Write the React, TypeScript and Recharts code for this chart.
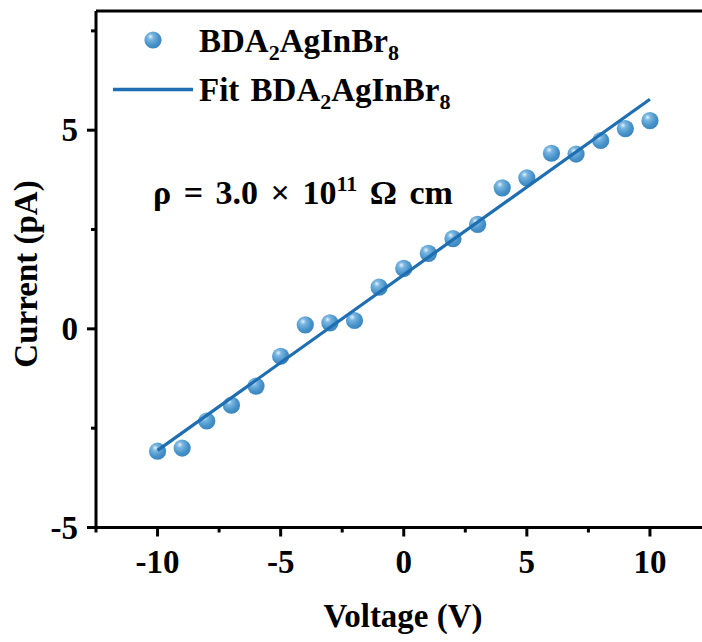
import React from "react";
import {
    ScatterChart,
    Scatter,
    XAxis,
    YAxis,
    ReferenceLine,
    Customized,
} from "recharts";

// Measured I-V points
const voltage = [-10, -9, -8, -7, -6, -5, -4, -3, -2, -1, 0, 1, 2, 3, 4, 5, 6, 7, 8, 9, 10];
const current = [
    -3.08, -3.0, -2.32, -1.92, -1.44, -0.69, 0.1, 0.15, 0.21, 1.05, 1.52,
    1.9, 2.27, 2.63, 3.55, 3.8, 4.42, 4.4, 4.74, 5.04, 5.24,
];

// Linear fit end points
const fitVoltage = [-10, 10];
const fitCurrent = [-3.06, 5.78];

const xTicks = [-12.5, -10, -7.5, -5, -2.5, 0, 2.5, 5, 7.5, 10, 12.5];
const yTicks = [-5, -2.5, 0, 2.5, 5, 7.5];

const points = voltage.map((v, i) => ({ v, i: current[i] }));
const fit = fitVoltage.map((v, k) => ({ v, i: fitCurrent[k] }));

const FONT = "'Liberation Serif', 'Times New Roman', serif";
const LINE = "#1f6eb2";
const SIZE = 33;

const Sphere = (props: any) => {
    const { cx, cy } = props;
    if (cx == null || cy == null) return <g />;
    return <circle cx={cx} cy={cy} r={8.6} fill="url(#sphereFill)" />;
};

const NoDot = () => <g />;

const XTick = (props: any) => {
    const { x, y, payload } = props;
    const major = payload.value % 5 === 0;
    return (
        <g>
            <line x1={x} y1={y} x2={x} y2={y + (major ? 9 : 5)} stroke="#000" strokeWidth={3} />
            {major && (
                <text x={x} y={y + 45} textAnchor="middle" fontFamily={FONT} fontWeight="bold" fontSize={SIZE} fill="#000">
                    {payload.value}
                </text>
            )}
        </g>
    );
};

const YTick = (props: any) => {
    const { x, y, payload } = props;
    const major = payload.value % 5 === 0;
    return (
        <g>
            <line x1={x} y1={y} x2={x - (major ? 9 : 5)} y2={y} stroke="#000" strokeWidth={3} />
            {major && (
                <text x={x - 18} y={y + 11} textAnchor="end" fontFamily={FONT} fontWeight="bold" fontSize={SIZE} fill="#000">
                    {payload.value}
                </text>
            )}
        </g>
    );
};

// Titles, legend and resistivity note
const Overlay = () => (
    <g fontFamily={FONT} fontWeight="bold" fill="#000">
        <defs>
            <radialGradient id="sphereFill" cx="38%" cy="35%" r="68%" fx="36%" fy="30%">
                <stop offset="0%" stopColor="#e4f2fb" />
                <stop offset="25%" stopColor="#7ab6e0" />
                <stop offset="70%" stopColor="#4692c9" />
                <stop offset="100%" stopColor="#3a84bd" />
            </radialGradient>
        </defs>

        <text x={403} y={627} textAnchor="middle" fontSize={SIZE}>Voltage (V)</text>
        <text transform="translate(37,274) rotate(-90)" textAnchor="middle" fontSize={SIZE}>Current (pA)</text>

        <circle cx={153} cy={40} r={8.6} fill="url(#sphereFill)" />
        <text x={199} y={52} fontSize={33}>
            BDA<tspan fontSize={22} dy={8}>2</tspan>
            <tspan dy={-8}>AgInBr</tspan>
            <tspan fontSize={22} dy={8}>8</tspan>
        </text>

        <line x1={113} y1={89.5} x2={193} y2={89.5} stroke={LINE} strokeWidth={3.4} />
        <text x={199} y={101} fontSize={33} wordSpacing={3}>
            Fit BDA<tspan fontSize={22} dy={8}>2</tspan>
            <tspan dy={-8}>AgInBr</tspan>
            <tspan fontSize={22} dy={8}>8</tspan>
        </text>

        <text x={153} y={204} fontSize={34} wordSpacing={4}>
            ρ = 3.0 × 10<tspan fontSize={22} dy={-13}>11</tspan>
            <tspan dy={13}> Ω cm</tspan>
        </text>
    </g>
);

export default function App() {
    return (
        <div style={{ position: "absolute", left: 0, top: 0, width: 702, height: 642, overflow: "hidden", background: "#fff" }}>
            <ScatterChart width={720} height={642} margin={{ top: 11, right: 8.5, bottom: 14.5, left: 10 }}>
                <XAxis
                    type="number"
                    dataKey="v"
                    domain={[-12.5, 12.5]}
                    ticks={xTicks}
                    interval={0}
                    height={100}
                    axisLine={{ stroke: "#000", strokeWidth: 3 }}
                    tickLine={false}
                    tickSize={0}
                    tickMargin={0}
                    tick={<XTick />}
                />
                <YAxis
                    type="number"
                    dataKey="i"
                    domain={[-5, 8]}
                    ticks={yTicks}
                    interval={0}
                    width={86}
                    axisLine={{ stroke: "#000", strokeWidth: 3 }}
                    tickLine={false}
                    tickSize={0}
                    tickMargin={0}
                    tick={<YTick />}
                />
                <ReferenceLine y={8} stroke="#000" strokeWidth={3} />
                <Scatter data={points} shape={Sphere} isAnimationActive={false} />
                <Scatter
                    data={fit}
                    shape={NoDot}
                    line={{ stroke: LINE, strokeWidth: 3.2 }}
                    isAnimationActive={false}
                />
                <Customized component={Overlay} />
            </ScatterChart>
        </div>
    );
}
